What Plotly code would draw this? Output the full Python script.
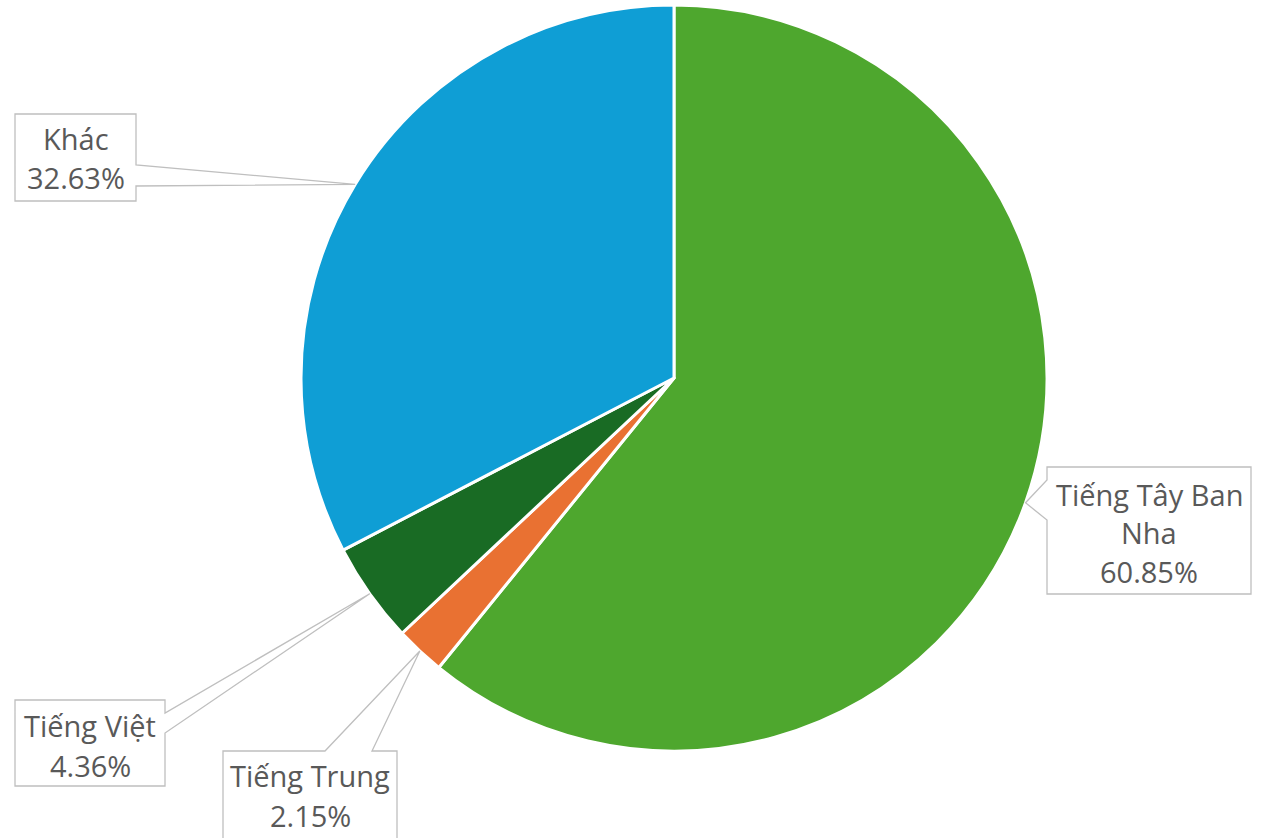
import math
import plotly.graph_objects as go

# Language share data (percent)
labels = ["Tiếng Tây Ban Nha", "Tiếng Trung", "Tiếng Việt", "Khác"]
values = [60.85, 2.15, 4.36, 32.63]
colors = ["#4EA72E", "#E97132", "#196B24", "#0F9ED5"]

# Text lines shown in each callout (label wrapped, then value)
label_lines = [["Tiếng Tây Ban", "Nha"], ["Tiếng Trung"], ["Tiếng Việt"], ["Khác"]]

W, H = 1271, 838
CX, CY, R = 674, 378, 373  # pie centre / radius in pixels

# Callout boxes in pixels: (x0, y0, x1, y1), side the pointer leaves from,
# the two pointer base positions along that side, and text line centres
callouts = [
    dict(box=(1047, 467, 1251, 594), side="left", base=(480, 520), cx=1149, ys=[494, 532, 571]),
    dict(box=(223, 751, 397, 845), side="top", base=(325, 372), cx=310, ys=[775, 815]),
    dict(box=(15, 700, 165, 786), side="right", base=(713, 733), cx=90, ys=[725, 765]),
    dict(box=(15, 114, 136, 201), side="right", base=(165, 186), cx=75.5, ys=[139, 178]),
]


def px(x):
    return x / W


def py(y):
    return 1 - y / H


fig = go.Figure()
fig.add_trace(go.Pie(
    labels=labels,
    values=values,
    sort=False,
    direction="clockwise",
    rotation=0,
    marker=dict(colors=colors, line=dict(color="white", width=3)),
    textinfo="none",
    hoverinfo="label+percent",
    showlegend=False,
    domain=dict(x=[px(CX - R), px(CX + R)], y=[py(CY + R), py(CY - R)]),
))

shapes = []
annotations = []
total = sum(values)
cum = 0.0
for i, v in enumerate(values):
    mid = (cum + v / 2) / total
    cum += v
    ang = math.radians(90 - mid * 360)
    ax = CX + R * math.cos(ang)
    ay = CY - R * math.sin(ang)
    c = callouts[i]
    x0, y0, x1, y1 = c["box"]
    b0, b1 = c["base"]
    if c["side"] == "left":
        pts = [(x0, y0), (x1, y0), (x1, y1), (x0, y1), (x0, b1), (ax, ay), (x0, b0)]
    elif c["side"] == "right":
        pts = [(x0, y0), (x1, y0), (x1, b0), (ax, ay), (x1, b1), (x1, y1), (x0, y1)]
    else:  # top
        pts = [(x0, y0), (b0, y0), (ax, ay), (b1, y0), (x1, y0), (x1, y1), (x0, y1)]
    path = "M " + " L ".join(f"{px(x):.5f},{py(y):.5f}" for x, y in pts) + " Z"
    shapes.append(dict(type="path", xref="paper", yref="paper", path=path,
                       fillcolor="white", line=dict(color="#BFBFBF", width=1.3),
                       layer="above"))
    lines = label_lines[i] + [f"{v:.2f}%"]
    for text, yc in zip(lines, c["ys"]):
        annotations.append(dict(x=px(c["cx"]), y=py(yc), xref="paper", yref="paper",
                                text=text, showarrow=False, xanchor="center",
                                yanchor="middle",
                                font=dict(family="Open Sans", size=29, color="#595959")))

fig.update_layout(
    width=W, height=H,
    margin=dict(l=0, r=0, t=0, b=0),
    paper_bgcolor="white",
    plot_bgcolor="white",
    shapes=shapes,
    annotations=annotations,
)

fig.write_html("out.html")
